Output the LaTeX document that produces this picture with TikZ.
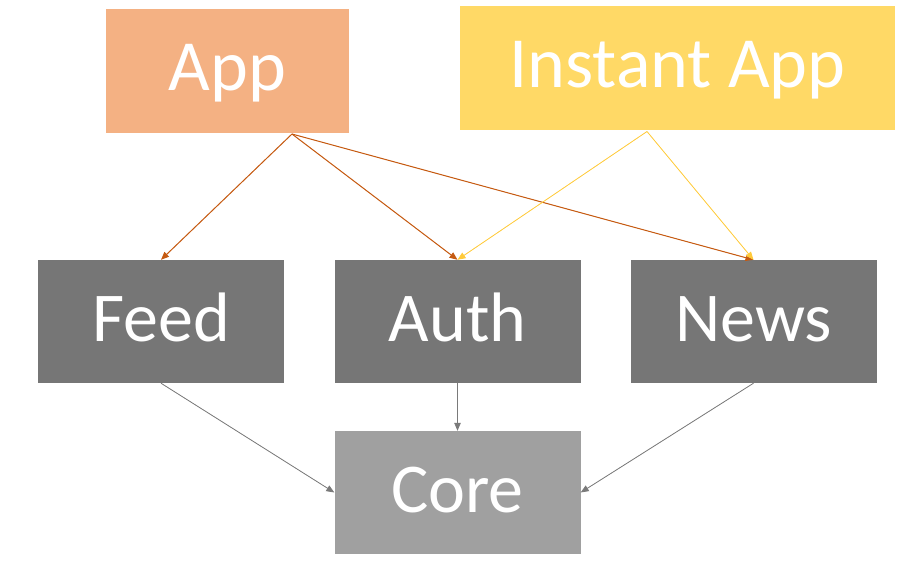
\documentclass[tikz,border=0pt]{standalone}
\usepackage{fontspec}
\setmainfont{Carlito}
\usetikzlibrary{arrows.meta}
\definecolor{appfill}{HTML}{F4B183}
\definecolor{instfill}{HTML}{FFD966}
\definecolor{modfill}{HTML}{767676}
\definecolor{corefill}{HTML}{A0A0A0}
\definecolor{apparrow}{HTML}{C55A11}
\definecolor{instarrow}{HTML}{FFCA3A}
\definecolor{grayarrow}{HTML}{7A7A7A}
\tikzset{
  box/.style={rectangle, inner sep=0pt, draw=none, text=white},
  topbox/.style={box, minimum height=124pt, font=\fontsize{72}{80}\selectfont,
    text height=46.4pt, text depth=6.5pt},
  modbox/.style={box, fill=modfill, minimum width=246pt, minimum height=123pt, font=\fontsize{70}{78}\selectfont,
    text height=45pt, text depth=5pt},
  conn/.style={-{Triangle[length=8pt,width=6.5pt]}},
  appconn/.style={conn, draw=apparrow, fill=apparrow, line width=1pt},
  instconn/.style={conn, draw=instarrow, fill=instarrow, line width=0.8pt},
  grayconn/.style={conn, draw=grayarrow, fill=grayarrow, line width=0.8pt},
}
\begin{document}
\begin{tikzpicture}[x=1pt, y=-1pt]
\useasboundingbox (0,0) rectangle (919,566);
\node[topbox, fill=appfill, minimum width=243pt] (app) at (227.5,71) {App};
\node[topbox, fill=instfill, minimum width=435pt] (inst) at (677.5,68) {Instant App};
\node[modbox] (feed) at (161,321.5) {Feed};
\node[modbox] (auth) at (457.5,321.5) {Auth};
\node[modbox] (news) at (753.5,321.5) {News};
\node[modbox, fill=corefill] (core) at (457.5,492.5) {Core};
\coordinate (appout) at (292,134);
\coordinate (instout) at (647,131.5);
\draw[appconn] (appout) -- (feed.north);
\draw[appconn] (appout) -- (auth.north);
\draw[appconn] (appout) -- (news.north);
\draw[instconn] (instout) -- (auth.north);
\draw[instconn] (instout) -- (news.north);
\draw[grayconn] (feed.south) -- (core.west);
\draw[grayconn] (auth.south) -- (core.north);
\draw[grayconn] (news.south) -- (core.east);
\end{tikzpicture}
\end{document}
